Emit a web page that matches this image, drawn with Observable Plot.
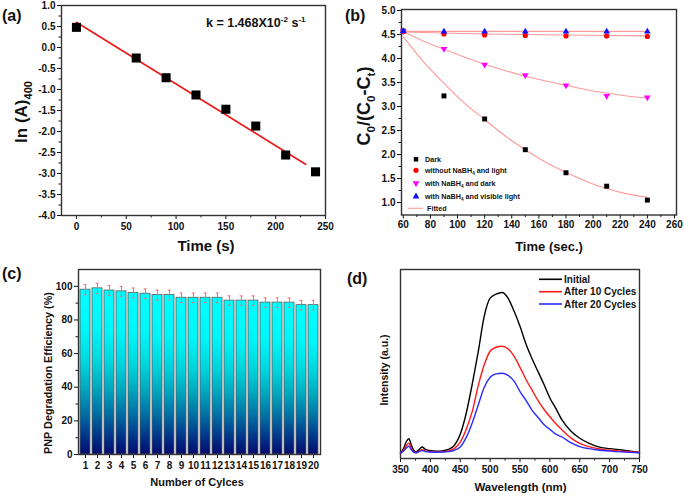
<!DOCTYPE html>
<html><head><meta charset="utf-8">
<script src="https://cdn.jsdelivr.net/npm/d3@7"></script>
<script src="https://cdn.jsdelivr.net/npm/@observablehq/plot@0.6"></script>
<style>
body{margin:0;background:#fff;}
#fig{position:relative;width:685px;height:496px;overflow:hidden;background:#fff;}
</style></head><body><div id="fig"></div>
<script>
// ---------- Panel (a) data ----------
const aTime = [0, 60, 90, 120, 150, 180, 210, 240];
const aLnA = [0.48, -0.25, -0.72, -1.13, -1.47, -1.87, -2.56, -2.96];
const aFitTime = [0, 230];
const aFitLnA = [0.60, -2.78];
const aYTicks = [-4, -3.5, -3, -2.5, -2, -1.5, -1, -0.5, 0, 0.5, 1];
const aYMinor = [-3.75, -3.25, -2.75, -2.25, -1.75, -1.25, -0.75, -0.25, 0.25, 0.75];
const aXTicks = [0, 50, 100, 150, 200, 250];
const aXMinor = [25, 75, 125, 175, 225];

// ---------- Panel (b) data ----------
const bTime = [60, 90, 120, 150, 180, 210, 240];
const bDark = [4.57, 3.22, 2.74, 2.10, 1.62, 1.34, 1.05];
const bNoNaBH4 = [4.56, 4.51, 4.49, 4.48, 4.47, 4.47, 4.46];
const bNaBH4Dark = [4.57, 4.20, 3.87, 3.65, 3.44, 3.22, 3.19];
const bNaBH4Light = [4.57, 4.56, 4.56, 4.56, 4.56, 4.56, 4.56];
const bFitTime = [60, 75, 90, 105, 120, 135, 150, 165, 180, 195, 210, 225, 240];
const bFitDark = [4.45, 3.93, 3.48, 3.07, 2.73, 2.39, 2.10, 1.84, 1.63, 1.44, 1.29, 1.18, 1.11];
const bFitNaBH4Dark = [4.56, 4.36, 4.19, 4.03, 3.88, 3.75, 3.63, 3.53, 3.44, 3.35, 3.28, 3.22, 3.18];
const bFitNoNaBH4 = [4.55, 4.54, 4.53, 4.52, 4.51, 4.505, 4.50, 4.495, 4.49, 4.485, 4.48, 4.475, 4.47];
const bFitNaBH4Light = [4.565, 4.565, 4.565, 4.565, 4.565, 4.565, 4.565, 4.565, 4.565, 4.565, 4.565, 4.565, 4.565];
const bYTicks = [1, 1.5, 2, 2.5, 3, 3.5, 4, 4.5, 5];
const bYMinor = [1.25, 1.75, 2.25, 2.75, 3.25, 3.75, 4.25, 4.75];
const bXTicks = [60, 80, 100, 120, 140, 160, 180, 200, 220, 240, 260];
const bXMinor = [70, 90, 110, 130, 150, 170, 190, 210, 230, 250];

// ---------- Panel (c) data ----------
const cCycles = [1, 2, 3, 4, 5, 6, 7, 8, 9, 10, 11, 12, 13, 14, 15, 16, 17, 18, 19, 20];
const cEfficiency = [98.0, 98.8, 97.5, 97.0, 96.1, 95.6, 94.8, 94.8, 93.2, 93.2, 93.2, 93.2, 91.5, 91.5, 91.5, 90.3, 90.3, 90.3, 88.8, 88.8];
const cError = [3, 3, 3, 2.9, 2.9, 2.9, 2.9, 2.9, 2.8, 2.8, 2.8, 2.8, 2.8, 2.8, 2.8, 2.8, 2.8, 2.8, 2.8, 2.8];
const cYTicks = [0, 20, 40, 60, 80, 100];
const cYMinor = [10, 30, 50, 70, 90];

// ---------- Panel (d) data ----------
const dWave = [350, 355, 360, 364, 368, 372, 376, 380, 386, 392, 400, 410, 420, 430, 440, 450, 460, 470, 480, 490, 500, 510, 520, 530, 540, 550, 560, 570, 580, 590, 600, 610, 620, 635, 650, 665, 680, 700, 720, 750];
const dInitial = [0.003, 0.03, 0.075, 0.092, 0.055, 0.02, 0.01, 0.02, 0.04, 0.025, 0.017, 0.014, 0.016, 0.025, 0.05, 0.12, 0.25, 0.43, 0.63, 0.85, 0.965, 0.99, 1.0, 0.965, 0.885, 0.79, 0.68, 0.59, 0.51, 0.43, 0.345, 0.28, 0.21, 0.14, 0.095, 0.065, 0.043, 0.03, 0.022, 0.006];
const dAfter10 = [0.002, 0.02, 0.05, 0.064, 0.035, 0.01, 0.005, 0.012, 0.023, 0.015, 0.012, 0.01, 0.011, 0.016, 0.03, 0.07, 0.15, 0.26, 0.42, 0.55, 0.635, 0.66, 0.666, 0.65, 0.605, 0.535, 0.46, 0.395, 0.33, 0.275, 0.228, 0.185, 0.148, 0.097, 0.063, 0.043, 0.03, 0.02, 0.014, 0.006];
const dAfter20 = [0.002, 0.015, 0.035, 0.045, 0.025, 0.008, 0.004, 0.01, 0.018, 0.012, 0.009, 0.008, 0.009, 0.012, 0.02, 0.04, 0.10, 0.19, 0.30, 0.41, 0.474, 0.495, 0.499, 0.485, 0.45, 0.385, 0.33, 0.27, 0.225, 0.18, 0.15, 0.12, 0.103, 0.068, 0.043, 0.03, 0.022, 0.015, 0.01, 0.005];
const dXTicks = [350, 400, 450, 500, 550, 600, 650, 700, 750];
const dXMinor = [375, 425, 475, 525, 575, 625, 675, 725];

// ---------- helpers ----------
const FONT = "'Liberation Sans', Arial, Helvetica, sans-serif";
const fig = document.getElementById("fig");
const baseStyle = (l, t) => `font-family:${FONT};font-size:10px;font-weight:bold;color:#111;background:transparent;overflow:visible;position:absolute;left:${l}px;top:${t}px;`;
const fmt1 = d => d.toFixed(1);
const blank = () => "";

function rich(svg, x, y, parts, {size = 10, anchor = "start", rotate = false, fill = "#111"} = {}) {
  const t = d3.select(svg).append("text")
    .attr("x", x).attr("y", y)
    .attr("text-anchor", anchor)
    .attr("font-family", FONT).attr("font-size", size).attr("font-weight", "bold").attr("fill", fill);
  if (rotate) t.attr("transform", `rotate(-90 ${x} ${y})`);
  let shift = 0;
  for (const p of parts) {
    const [s, kind] = typeof p === "string" ? [p, null] : p;
    const target = kind === "sub" ? size * 0.3 : kind === "sup" ? -size * 0.4 : 0;
    t.append("tspan").attr("dy", target - shift).attr("font-size", kind ? size * 0.65 : size).text(s);
    shift = target;
  }
  return t;
}

const triangleDown = {
  draw(context, size) {
    const s3 = Math.sqrt(3);
    const y = -Math.sqrt(size / (s3 * 3));
    context.moveTo(0, -y * 2);
    context.lineTo(-s3 * y, y);
    context.lineTo(s3 * y, y);
    context.closePath();
  }
};

// ---------- Panel (a) ----------
const aPts = aTime.map((t, i) => ({t, v: aLnA[i]}));
const aFit = aFitTime.map((t, i) => ({t, v: aFitLnA[i]}));
const svgA = Plot.plot({
  width: 340, height: 255,
  marginLeft: 61, marginRight: 15, marginTop: 5, marginBottom: 40,
  style: baseStyle(0, 0),
  x: {domain: [-15, 250]},
  y: {domain: [-4, 1]},
  marks: [
    Plot.axisY(aYTicks, {tickSize: 4, tickPadding: 2, tickFormat: fmt1, label: null}),
    Plot.axisY(aYMinor, {tickSize: 2.5, tickFormat: blank, label: null}),
    Plot.axisX(aXTicks, {tickSize: 4, tickPadding: 3, tickFormat: d => String(d), label: null}),
    Plot.axisX(aXMinor, {tickSize: 2.5, tickFormat: blank, label: null}),
    Plot.frame({stroke: "#333", strokeWidth: 1.4}),
    Plot.line(aFit, {x: "t", y: "v", stroke: "#ee1a1a", strokeWidth: 1.7}),
    Plot.dot(aPts, {x: "t", y: "v", symbol: "square", r: 5.1, fill: "#000"})
  ]
});
fig.appendChild(svgA);
rich(svgA, 2, 21, ["(a)"], {size: 16});
rich(svgA, 206, 27, ["k = 1.468X10", ["-2", "sup"], " s", ["-1", "sup"]], {size: 12.5});
rich(svgA, 206, 251, ["Time (s)"], {size: 15, anchor: "middle"});
rich(svgA, 27, 112, ["ln (A)", ["400", "sub"]], {size: 17, anchor: "middle", rotate: true});

// ---------- Panel (b) ----------
const toPts = (xs, ys) => xs.map((x, i) => ({x, y: ys[i]}));
const fitColor = "#ff9a9a";
const svgB = Plot.plot({
  width: 345, height: 255,
  marginLeft: 61, marginRight: 9, marginTop: 9, marginBottom: 40.5,
  style: baseStyle(340, 0),
  x: {domain: [58.7, 261.5]},
  y: {domain: [0.74, 5.02]},
  marks: [
    Plot.axisY(bYTicks, {tickSize: 4, tickPadding: 2, tickFormat: fmt1, label: null}),
    Plot.axisY(bYMinor, {tickSize: 2.5, tickFormat: blank, label: null}),
    Plot.axisX(bXTicks, {tickSize: 4, tickPadding: 1.5, tickFormat: d => String(d), label: null}),
    Plot.axisX(bXMinor, {tickSize: 2.5, tickFormat: blank, label: null}),
    Plot.frame({stroke: "#333", strokeWidth: 1.4}),
    Plot.line(toPts(bFitTime, bFitDark), {x: "x", y: "y", stroke: fitColor, strokeWidth: 1.1, curve: "monotone-x"}),
    Plot.line(toPts(bFitTime, bFitNaBH4Dark), {x: "x", y: "y", stroke: fitColor, strokeWidth: 1.1, curve: "monotone-x"}),
    Plot.line(toPts(bFitTime, bFitNoNaBH4), {x: "x", y: "y", stroke: fitColor, strokeWidth: 1.1}),
    Plot.line(toPts(bFitTime, bFitNaBH4Light), {x: "x", y: "y", stroke: fitColor, strokeWidth: 1.1}),
    Plot.dot(toPts(bTime, bDark), {x: "x", y: "y", symbol: "square", r: 2.8, fill: "#000"}),
    Plot.dot(toPts(bTime, bNoNaBH4), {x: "x", y: "y", symbol: "circle", r: 2.6, fill: "#ff0000"}),
    Plot.dot(toPts(bTime, bNaBH4Dark), {x: "x", y: "y", symbol: triangleDown, r: 2.5, fill: "#ff00ff"}),
    Plot.dot(toPts(bTime, bNaBH4Light), {x: "x", y: "y", symbol: "triangle", r: 2.5, fill: "#1010ff"})
  ]
});
fig.appendChild(svgB);
rich(svgB, 5, 21, ["(b)"], {size: 16});
rich(svgB, 209, 251, ["Time (sec.)"], {size: 13, anchor: "middle"});
rich(svgB, 30, 106, ["C", ["0", "sub"], "/(C", ["0", "sub"], "-C", ["t", "sub"], ")"], {size: 18, anchor: "middle", rotate: true});
{
  const lg = d3.select(svgB).append("g");
  const sym = (type, size) => d3.symbol().type(type).size(size)();
  const rows = [
    {y: 159.3, path: sym(d3.symbolSquare, 20), fill: "#000", label: ["Dark"]},
    {y: 170.3, path: sym(d3.symbolCircle, 21), fill: "#ff0000", label: ["without NaBH", ["4", "sub"], " and light"]},
    {y: 183.3, path: sym(triangleDown, 20), fill: "#ff00ff", label: ["with NaBH", ["4", "sub"], " and dark"]},
    {y: 196.5, path: sym(d3.symbolTriangle, 20), fill: "#1010ff", label: ["with NaBH", ["4", "sub"], " and visible light"]}
  ];
  for (const r of rows) {
    lg.append("path").attr("d", r.path).attr("transform", `translate(76,${r.y})`).attr("fill", r.fill);
    rich(svgB, 85, r.y + 2.5, r.label, {size: 7.2});
  }
  lg.append("line").attr("x1", 68).attr("x2", 83).attr("y1", 208.3).attr("y2", 208.3).attr("stroke", fitColor).attr("stroke-width", 1.1);
  rich(svgB, 87, 210.8, ["Fitted"], {size: 7.2});
}

// ---------- Panel (c) ----------
const cData = cCycles.map((c, i) => ({c, v: cEfficiency[i], e: cError[i]}));
const svgC = Plot.plot({
  width: 340, height: 246,
  marginLeft: 78, marginRight: 20, marginTop: 19, marginBottom: 42,
  style: baseStyle(0, 250),
  x: {type: "band", domain: cCycles, paddingInner: 0.16, paddingOuter: 0.12},
  y: {domain: [0, 110]},
  marks: [
    Plot.barY(cData, {x: "c", y: "v", fill: "url(#cBarGrad)", stroke: "#5a5a5a", strokeWidth: 0.8}),
    Plot.ruleX(cData, {x: "c", y1: d => d.v - d.e, y2: d => d.v + d.e, stroke: "#ff6a6a", strokeWidth: 1}),
    Plot.tickY(cData, {x: "c", y: d => d.v + d.e, stroke: "#ff6a6a", strokeWidth: 1, insetLeft: 3.6, insetRight: 3.6}),
    Plot.tickY(cData, {x: "c", y: d => d.v - d.e, stroke: "#ff6a6a", strokeWidth: 1, insetLeft: 3.6, insetRight: 3.6}),
    Plot.axisY(cYTicks, {tickSize: 4, tickPadding: 2, tickFormat: d => String(d), label: null}),
    Plot.axisY(cYMinor, {tickSize: 2.5, tickFormat: blank, label: null}),
    Plot.axisX(cCycles, {tickSize: 4, tickPadding: 3, tickFormat: d => String(d), label: null}),
    Plot.frame({stroke: "#333", strokeWidth: 1.4})
  ]
});
{
  const defs = d3.select(svgC).insert("defs", ":first-child");
  const g = defs.append("linearGradient").attr("id", "cBarGrad").attr("x1", 0).attr("y1", 0).attr("x2", 0).attr("y2", 1);
  [[0, "#00ffff"], [0.25, "#00f6f8"], [0.45, "#00d4de"], [0.6, "#00a8c0"], [0.75, "#0070a4"], [0.9, "#003088"], [1, "#000a70"]]
    .forEach(([o, c]) => g.append("stop").attr("offset", o).attr("stop-color", c));
}
fig.appendChild(svgC);
rich(svgC, 2, 29, ["(c)"], {size: 16});
rich(svgC, 197, 236, ["Number of Cylces"], {size: 11, anchor: "middle"});
rich(svgC, 52, 123, ["PNP Degradation Efficiency (%)"], {size: 10.8, anchor: "middle", rotate: true});

// ---------- Panel (d) ----------
const dSeries = [
  {name: "Initial", vals: dInitial, color: "#000000"},
  {name: "After 10 Cycles", vals: dAfter10, color: "#ff1a1a"},
  {name: "After 20 Cycles", vals: dAfter20, color: "#2a2aff"}
];
const svgD = Plot.plot({
  width: 345, height: 246,
  marginLeft: 60, marginRight: 46, marginTop: 19, marginBottom: 38,
  style: baseStyle(340, 250),
  x: {domain: [350, 750]},
  y: {domain: [-0.031, 1.143], axis: null},
  marks: [
    Plot.axisX(dXTicks, {tickSize: 4, tickPadding: 3, tickFormat: d => String(d), label: null}),
    Plot.axisX(dXMinor, {tickSize: 2.5, tickFormat: blank, label: null}),
    Plot.frame({stroke: "#333", strokeWidth: 1.4}),
    ...dSeries.map(s => Plot.line(dWave.map((w, i) => ({w, v: s.vals[i]})), {x: "w", y: "v", stroke: s.color, strokeWidth: 1.4, curve: "monotone-x"}))
  ]
});
fig.appendChild(svgD);
rich(svgD, 7, 34, ["(d)"], {size: 16});
rich(svgD, 180.5, 241, ["Wavelength (nm)"], {size: 11.5, anchor: "middle"});
rich(svgD, 48, 120, ["Intensity (a.u.)"], {size: 10.5, anchor: "middle", rotate: true});
{
  const ys = [29.3, 41.7, 54];
  dSeries.forEach((s, i) => {
    d3.select(svgD).append("line").attr("x1", 199).attr("x2", 222).attr("y1", ys[i]).attr("y2", ys[i]).attr("stroke", s.color).attr("stroke-width", 1.6);
    rich(svgD, 224, ys[i] + 3.6, [s.name], {size: 10});
  });
}
</script></body></html>
